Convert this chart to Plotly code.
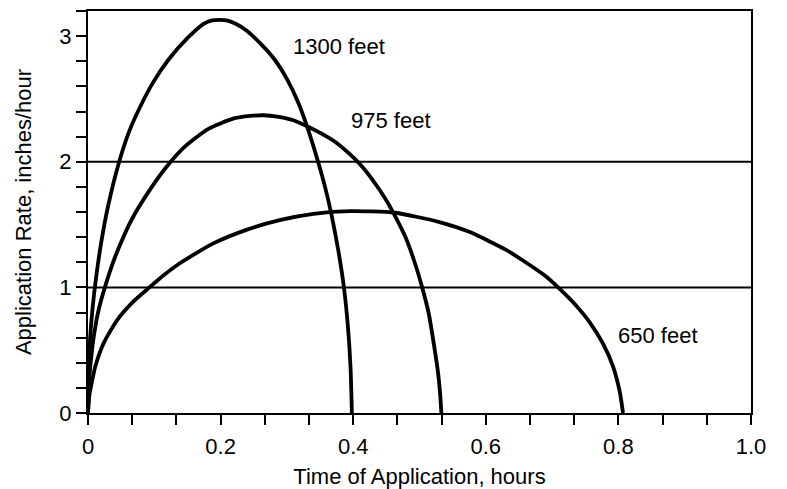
import plotly.graph_objects as go

# ---- data ----
series_names = ["1300 feet", "975 feet", "650 feet"]

t_1300 = [0.0, 0.001, 0.003, 0.007, 0.012, 0.020, 0.030, 0.047, 0.062, 0.078,
          0.098, 0.121, 0.151, 0.175, 0.187, 0.198, 0.209, 0.222, 0.240, 0.262,
          0.282, 0.300, 0.318, 0.333, 0.347, 0.358, 0.368, 0.378, 0.386, 0.392,
          0.396, 0.398]
r_1300 = [0.0, 0.33, 0.58, 0.84, 1.07, 1.36, 1.64, 2.0, 2.24, 2.43,
          2.63, 2.81, 2.99, 3.10, 3.125, 3.13, 3.125, 3.10, 3.04, 2.93,
          2.81, 2.66, 2.46, 2.24, 2.0, 1.79, 1.56, 1.28, 1.0, 0.69,
          0.36, 0.0]

t_975 = [0.0, 0.002, 0.005, 0.009, 0.016, 0.026, 0.040, 0.055, 0.068, 0.090,
         0.117, 0.146, 0.181, 0.220, 0.245, 0.265, 0.285, 0.310, 0.335, 0.357,
         0.375, 0.395, 0.412, 0.430, 0.448, 0.463, 0.478, 0.492, 0.504, 0.514,
         0.521, 0.528, 0.531, 0.533]
r_975 = [0.0, 0.28, 0.45, 0.62, 0.82, 1.01, 1.23, 1.42, 1.56, 1.75,
         1.95, 2.12, 2.26, 2.345, 2.365, 2.37, 2.36, 2.33, 2.27, 2.21,
         2.15, 2.06, 1.97, 1.85, 1.71, 1.57, 1.41, 1.21, 1.0, 0.79,
         0.57, 0.32, 0.16, 0.0]

t_650 = [0.0, 0.002, 0.006, 0.011, 0.024, 0.044, 0.069, 0.0905, 0.115, 0.138,
         0.189, 0.240, 0.289, 0.340, 0.395, 0.463, 0.530, 0.576, 0.630, 0.660,
         0.690, 0.709, 0.731, 0.757, 0.777, 0.792, 0.802, 0.807]
r_650 = [0.0, 0.14, 0.25, 0.37, 0.56, 0.74, 0.89, 0.99, 1.10, 1.19,
         1.35, 1.46, 1.535, 1.585, 1.607, 1.594, 1.52, 1.44, 1.30, 1.20,
         1.09, 1.0, 0.885, 0.72, 0.55, 0.37, 0.17, 0.0]

reference_rates = [1, 2]

x_tick_vals = [0.0, 0.2, 0.4, 0.6, 0.8, 1.0]
x_tick_text = ["0", "0.2", "0.4", "0.6", "0.8", "1.0"]
y_tick_vals = [0, 1, 2, 3]
y_tick_text = ["0", "1", "2", "3"]

x_title = "Time of Application, hours"
y_title = "Application Rate, inches/hour"

# ---- figure ----
FONT = "Liberation Sans, Arial, Helvetica, sans-serif"
FS = 22
fig = go.Figure()

for name, xs, ys in zip(series_names, [t_1300, t_975, t_650], [r_1300, r_975, r_650]):
    fig.add_trace(go.Scatter(
        x=xs, y=ys, mode="lines", name=name,
        line=dict(color="black", width=3.8, shape="spline", smoothing=0.6),
        showlegend=False, hoverinfo="skip",
    ))

for rv in reference_rates:
    fig.add_shape(type="line", xref="paper", yref="y", x0=0, x1=1, y0=rv, y1=rv,
                  line=dict(color="black", width=2), layer="below")

label_pos = {"1300 feet": (0.378, 2.914), "975 feet": (0.457, 2.327), "650 feet": (0.859, 0.613)}
for name in series_names:
    lx, ly = label_pos[name]
    fig.add_annotation(x=lx, y=ly, text=name, showarrow=False,
                       xanchor="center", yanchor="middle",
                       font=dict(family=FONT, size=FS, color="black"))

axis_common = dict(
    showline=True, linecolor="black", linewidth=2, mirror=True,
    ticks="outside", ticklen=10, tickwidth=2, tickcolor="black",
    showgrid=False, zeroline=False,
    tickfont=dict(family=FONT, size=FS, color="black"),
)

fig.update_xaxes(
    range=[0, 1], tickmode="array", tickvals=x_tick_vals, ticktext=x_tick_text,
    minor=dict(tickmode="linear", tick0=0, dtick=0.2 / 3, ticks="outside",
               ticklen=10, tickwidth=2, tickcolor="black", showgrid=False),
    ticklabelstandoff=3,
    title=dict(text=x_title, font=dict(family=FONT, size=FS, color="black"), standoff=10),
    **axis_common,
)
fig.update_yaxes(
    range=[0, 3.2], tickmode="array", tickvals=y_tick_vals, ticktext=y_tick_text,
    minor=dict(tickmode="linear", tick0=0, dtick=0.2, ticks="outside",
               ticklen=10, tickwidth=2, tickcolor="black", showgrid=False),
    title=dict(text=y_title, font=dict(family=FONT, size=FS, color="black"), standoff=22),
    **axis_common,
)

# the page body adds an 8px offset, margins compensate for it
fig.update_layout(
    width=787, height=489,
    margin=dict(l=80, r=44, t=1, b=84, pad=0),
    plot_bgcolor="white", paper_bgcolor="white",
    font=dict(family=FONT, size=FS, color="black"),
)

fig.write_html("out.html")
